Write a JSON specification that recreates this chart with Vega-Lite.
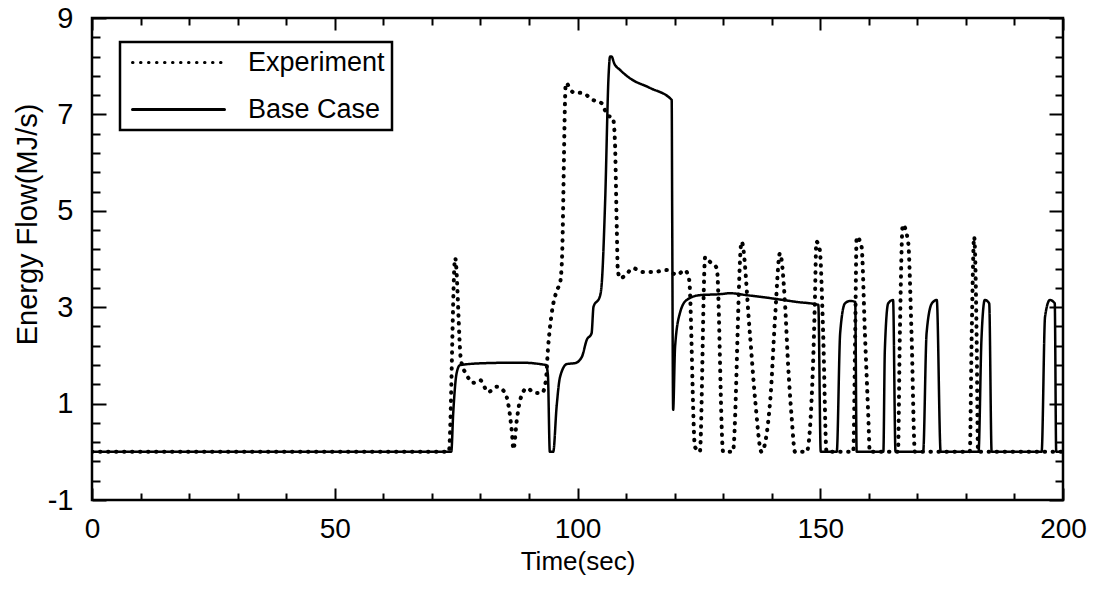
{
  "$schema": "https://vega.github.io/schema/vega-lite/v6.json",
  "autosize": {"type": "none"},
  "width": 971,
  "height": 482,
  "padding": {"left": 92, "top": 18, "right": 31, "bottom": 90},
  "background": "white",
  "config": {
    "view": {"stroke": "black", "strokeWidth": 2.5},
    "font": "Liberation Sans"
  },
  "datasets": {
    "curves": [
      {"series": "Experiment", "time": 0, "flow": 0},
      {"series": "Experiment", "time": 73.5, "flow": 0},
      {"series": "Experiment", "time": 74.8, "flow": 4.02},
      {"series": "Experiment", "time": 76.0, "flow": 1.9},
      {"series": "Experiment", "time": 77.2, "flow": 1.59},
      {"series": "Experiment", "time": 78.5, "flow": 1.43},
      {"series": "Experiment", "time": 79.9, "flow": 1.49},
      {"series": "Experiment", "time": 81.6, "flow": 1.24},
      {"series": "Experiment", "time": 83.4, "flow": 1.35},
      {"series": "Experiment", "time": 85.1, "flow": 1.22},
      {"series": "Experiment", "time": 85.7, "flow": 1.01},
      {"series": "Experiment", "time": 86.5, "flow": 0.39},
      {"series": "Experiment", "time": 86.8, "flow": 0.05},
      {"series": "Experiment", "time": 87.5, "flow": 0.66},
      {"series": "Experiment", "time": 88.2, "flow": 1.08},
      {"series": "Experiment", "time": 89.6, "flow": 1.32},
      {"series": "Experiment", "time": 91.2, "flow": 1.22},
      {"series": "Experiment", "time": 92.7, "flow": 1.22},
      {"series": "Experiment", "time": 93.5, "flow": 1.49},
      {"series": "Experiment", "time": 93.9, "flow": 2.11},
      {"series": "Experiment", "time": 94.7, "flow": 2.88},
      {"series": "Experiment", "time": 95.8, "flow": 3.36},
      {"series": "Experiment", "time": 96.4, "flow": 3.5},
      {"series": "Experiment", "time": 96.8, "flow": 3.98},
      {"series": "Experiment", "time": 97.6, "flow": 7.65},
      {"series": "Experiment", "time": 99.1, "flow": 7.46},
      {"series": "Experiment", "time": 101.1, "flow": 7.44},
      {"series": "Experiment", "time": 103.2, "flow": 7.3},
      {"series": "Experiment", "time": 105.0, "flow": 7.23},
      {"series": "Experiment", "time": 106.1, "flow": 6.99},
      {"series": "Experiment", "time": 107.3, "flow": 6.92},
      {"series": "Experiment", "time": 107.7, "flow": 6.47},
      {"series": "Experiment", "time": 108.1, "flow": 4.6},
      {"series": "Experiment", "time": 108.3, "flow": 3.77},
      {"series": "Experiment", "time": 108.8, "flow": 3.6},
      {"series": "Experiment", "time": 110.2, "flow": 3.7},
      {"series": "Experiment", "time": 111.4, "flow": 3.81},
      {"series": "Experiment", "time": 113.5, "flow": 3.73},
      {"series": "Experiment", "time": 115.6, "flow": 3.73},
      {"series": "Experiment", "time": 118.4, "flow": 3.77},
      {"series": "Experiment", "time": 120.5, "flow": 3.67},
      {"series": "Experiment", "time": 122.1, "flow": 3.77},
      {"series": "Experiment", "time": 123.0, "flow": 3.57},
      {"series": "Experiment", "time": 124.2, "flow": 0.1},
      {"series": "Experiment", "time": 125.2, "flow": 0.0},
      {"series": "Experiment", "time": 126.3, "flow": 4.04},
      {"series": "Experiment", "time": 127.3, "flow": 3.94},
      {"series": "Experiment", "time": 128.7, "flow": 3.81},
      {"series": "Experiment", "time": 130.0, "flow": 0.0},
      {"series": "Experiment", "time": 132.0, "flow": 0.0},
      {"series": "Experiment", "time": 133.8, "flow": 4.36},
      {"series": "Experiment", "time": 135.5, "flow": 2.46},
      {"series": "Experiment", "time": 136.6, "flow": 1.07},
      {"series": "Experiment", "time": 137.9, "flow": 0.0},
      {"series": "Experiment", "time": 139.7, "flow": 1.07},
      {"series": "Experiment", "time": 140.7, "flow": 2.8},
      {"series": "Experiment", "time": 141.7, "flow": 4.12},
      {"series": "Experiment", "time": 142.7, "flow": 3.15},
      {"series": "Experiment", "time": 143.4, "flow": 1.77},
      {"series": "Experiment", "time": 144.1, "flow": 0.73},
      {"series": "Experiment", "time": 144.8, "flow": 0.0},
      {"series": "Experiment", "time": 147.2, "flow": 0.0},
      {"series": "Experiment", "time": 148.5, "flow": 1.77},
      {"series": "Experiment", "time": 148.9, "flow": 3.15},
      {"series": "Experiment", "time": 149.2, "flow": 4.36},
      {"series": "Experiment", "time": 149.9, "flow": 4.19},
      {"series": "Experiment", "time": 150.6, "flow": 2.46},
      {"series": "Experiment", "time": 151.3, "flow": 0.0},
      {"series": "Experiment", "time": 156.8, "flow": 0.0},
      {"series": "Experiment", "time": 157.2, "flow": 2.46},
      {"series": "Experiment", "time": 157.5, "flow": 4.46},
      {"series": "Experiment", "time": 158.5, "flow": 4.26},
      {"series": "Experiment", "time": 159.2, "flow": 2.46},
      {"series": "Experiment", "time": 159.9, "flow": 0.73},
      {"series": "Experiment", "time": 160.2, "flow": 0.0},
      {"series": "Experiment", "time": 166.0, "flow": 0.0},
      {"series": "Experiment", "time": 166.4, "flow": 2.46},
      {"series": "Experiment", "time": 167.0, "flow": 4.71},
      {"series": "Experiment", "time": 168.1, "flow": 4.36},
      {"series": "Experiment", "time": 168.8, "flow": 2.46},
      {"series": "Experiment", "time": 169.5, "flow": 0.0},
      {"series": "Experiment", "time": 180.8, "flow": 0.0},
      {"series": "Experiment", "time": 181.2, "flow": 2.46},
      {"series": "Experiment", "time": 181.7, "flow": 4.46},
      {"series": "Experiment", "time": 182.2, "flow": 2.46},
      {"series": "Experiment", "time": 182.5, "flow": 0.0},
      {"series": "Experiment", "time": 200, "flow": 0.0},

      {"series": "Base Case", "time": 0, "flow": 0},
      {"series": "Base Case", "time": 74.0, "flow": 0},
      {"series": "Base Case", "time": 74.4, "flow": 0.8},
      {"series": "Base Case", "time": 75.1, "flow": 1.63},
      {"series": "Base Case", "time": 75.8, "flow": 1.8},
      {"series": "Base Case", "time": 81.3, "flow": 1.84},
      {"series": "Base Case", "time": 88.2, "flow": 1.85},
      {"series": "Base Case", "time": 93.5, "flow": 1.8},
      {"series": "Base Case", "time": 93.9, "flow": 1.6},
      {"series": "Base Case", "time": 94.3, "flow": 0},
      {"series": "Base Case", "time": 95.0, "flow": 0},
      {"series": "Base Case", "time": 95.7, "flow": 0.94},
      {"series": "Base Case", "time": 96.4, "flow": 1.55},
      {"series": "Base Case", "time": 97.8, "flow": 1.82},
      {"series": "Base Case", "time": 99.5, "flow": 1.84},
      {"series": "Base Case", "time": 100.9, "flow": 1.97},
      {"series": "Base Case", "time": 101.9, "flow": 2.32},
      {"series": "Base Case", "time": 102.9, "flow": 2.46},
      {"series": "Base Case", "time": 103.3, "flow": 3.01},
      {"series": "Base Case", "time": 104.6, "flow": 3.22},
      {"series": "Base Case", "time": 105.0, "flow": 3.5},
      {"series": "Base Case", "time": 105.7, "flow": 5.22},
      {"series": "Base Case", "time": 106.4, "flow": 7.8},
      {"series": "Base Case", "time": 106.7, "flow": 8.2},
      {"series": "Base Case", "time": 107.0, "flow": 8.2},
      {"series": "Base Case", "time": 107.6, "flow": 8.05},
      {"series": "Base Case", "time": 108.8, "flow": 7.92},
      {"series": "Base Case", "time": 110.8, "flow": 7.75},
      {"series": "Base Case", "time": 114.9, "flow": 7.55},
      {"series": "Base Case", "time": 119.4, "flow": 7.3},
      {"series": "Base Case", "time": 119.5, "flow": 5.0},
      {"series": "Base Case", "time": 119.7, "flow": 0.87},
      {"series": "Base Case", "time": 120.1, "flow": 2.18},
      {"series": "Base Case", "time": 121.1, "flow": 2.88},
      {"series": "Base Case", "time": 122.5, "flow": 3.15},
      {"series": "Base Case", "time": 125.2, "flow": 3.25},
      {"series": "Base Case", "time": 129.3, "flow": 3.27},
      {"series": "Base Case", "time": 131.4, "flow": 3.29},
      {"series": "Base Case", "time": 134.8, "flow": 3.25},
      {"series": "Base Case", "time": 140.3, "flow": 3.18},
      {"series": "Base Case", "time": 145.1, "flow": 3.11},
      {"series": "Base Case", "time": 149.6, "flow": 3.05},
      {"series": "Base Case", "time": 150.1, "flow": 0},
      {"series": "Base Case", "time": 153.4, "flow": 0},
      {"series": "Base Case", "time": 154.1, "flow": 2.46},
      {"series": "Base Case", "time": 155.1, "flow": 3.08},
      {"series": "Base Case", "time": 156.2, "flow": 3.13},
      {"series": "Base Case", "time": 157.2, "flow": 3.11},
      {"series": "Base Case", "time": 157.5, "flow": 0},
      {"series": "Base Case", "time": 163.0, "flow": 0},
      {"series": "Base Case", "time": 163.3, "flow": 2.1},
      {"series": "Base Case", "time": 164.0, "flow": 3.08},
      {"series": "Base Case", "time": 165.0, "flow": 3.15},
      {"series": "Base Case", "time": 165.5, "flow": 0},
      {"series": "Base Case", "time": 171.2, "flow": 0},
      {"series": "Base Case", "time": 171.9, "flow": 2.46},
      {"series": "Base Case", "time": 173.0, "flow": 3.08},
      {"series": "Base Case", "time": 174.0, "flow": 3.15},
      {"series": "Base Case", "time": 174.8, "flow": 0},
      {"series": "Base Case", "time": 182.6, "flow": 0},
      {"series": "Base Case", "time": 183.2, "flow": 2.32},
      {"series": "Base Case", "time": 183.9, "flow": 3.15},
      {"series": "Base Case", "time": 184.8, "flow": 3.08},
      {"series": "Base Case", "time": 185.3, "flow": 0},
      {"series": "Base Case", "time": 195.6, "flow": 0},
      {"series": "Base Case", "time": 196.3, "flow": 2.8},
      {"series": "Base Case", "time": 197.3, "flow": 3.15},
      {"series": "Base Case", "time": 198.3, "flow": 3.08},
      {"series": "Base Case", "time": 198.6, "flow": 0},
      {"series": "Base Case", "time": 200, "flow": 0}
    ]
  },
  "data": {"name": "curves"},
  "layer": [
    {
      "transform": [{"filter": "datum.series === 'Experiment'"}],
      "mark": {"type": "line", "color": "black", "strokeWidth": 4, "strokeCap": "round", "strokeDash": [0.5, 7.5], "interpolate": "monotone", "clip": true},
      "encoding": {
        "x": {
          "field": "time", "type": "quantitative",
          "scale": {"domain": [0, 200], "nice": false, "zero": false},
          "axis": {
            "orient": "bottom", "title": "Time(sec)",
            "values": [0,10,20,30,40,50,60,70,80,90,100,110,120,130,140,150,160,170,180,190,200],
            "labelExpr": "datum.value % 50 === 0 ? datum.label : ''",
            "labelFlush": false, "labelOverlap": false,
            "tickSize": {"condition": {"test": "datum.value % 50 === 0", "value": -12}, "value": -7},
            "tickColor": "black", "tickWidth": 2, "domain": false, "grid": false,
            "labelFont": "Liberation Sans", "labelFontSize": 28, "labelColor": "black", "labelPadding": 27,
            "titleFont": "Liberation Sans", "titleFontSize": 26, "titleFontWeight": "normal", "titleColor": "black",
            "titleY": 69, "titleBaseline": "alphabetic", "titleAlign": "center", "titleAnchor": "middle"
          }
        },
        "y": {
          "field": "flow", "type": "quantitative",
          "scale": {"domain": [-1, 9], "nice": false, "zero": false},
          "axis": {
            "orient": "left", "title": "Energy Flow(MJ/s)",
            "values": [-1,-0.6,-0.2,0.2,0.6,1,1.4,1.8,2.2,2.6,3,3.4,3.8,4.2,4.6,5,5.4,5.8,6.2,6.6,7,7.4,7.8,8.2,8.6,9],
            "labelExpr": "indexof([-1,1,3,5,7,9], datum.value) >= 0 ? (datum.value < 0 ? '-1' : format(datum.value, 'd')) : ''",
            "labelFlush": false, "labelOverlap": false,
            "tickSize": {"condition": {"test": "indexof([-1,1,3,5,7,9], datum.value) >= 0", "value": -14}, "value": -8},
            "tickColor": "black", "tickWidth": 2, "domain": false, "grid": false,
            "labelFont": "Liberation Sans", "labelFontSize": 29, "labelColor": "black", "labelPadding": 33,
            "titleFont": "Liberation Sans", "titleFontSize": 29, "titleFontWeight": "normal", "titleColor": "black",
            "titleX": -65, "titleY": 206, "titleAlign": "center", "titleBaseline": "middle", "titleAngle": -90
          }
        },
        "strokeDash": {
          "field": "series", "type": "nominal",
          "scale": {"domain": ["Experiment", "Base Case"], "range": [[0.5, 7.5], [1, 0]]},
          "legend": {
            "orient": "none", "legendX": 28, "legendY": 24, "title": null,
            "symbolType": "M-4,0H4", "symbolSize": 529, "symbolStrokeWidth": 2.5, "symbolStrokeColor": "black",
            "symbolOffset": 38,
            "labelFont": "Liberation Sans", "labelFontSize": 27, "labelColor": "black", "labelOffset": 56,
            "strokeColor": "black", "padding": 7, "rowPadding": 19,
            "encode": {
              "legend": {"update": {"strokeWidth": {"value": 2.5}}},
              "symbols": {"update": {"strokeCap": {"value": "round"}, "strokeWidth": {"value": 3}}}
            }
          }
        }
      }
    },
    {
      "transform": [{"filter": "datum.series === 'Base Case'"}],
      "mark": {"type": "line", "color": "black", "strokeWidth": 2.5, "interpolate": "monotone", "clip": true},
      "encoding": {
        "x": {
          "field": "time", "type": "quantitative",
          "axis": {
            "orient": "top", "title": null, "labels": false, "domain": false, "grid": false,
            "values": [0,10,20,30,40,50,60,70,80,90,100,110,120,130,140,150,160,170,180,190,200],
            "tickSize": {"condition": {"test": "datum.value % 50 === 0", "value": -12}, "value": -7},
            "tickColor": "black", "tickWidth": 2
          }
        },
        "y": {
          "field": "flow", "type": "quantitative",
          "axis": {
            "orient": "right", "title": null, "labels": false, "domain": false, "grid": false,
            "values": [-1,-0.6,-0.2,0.2,0.6,1,1.4,1.8,2.2,2.6,3,3.4,3.8,4.2,4.6,5,5.4,5.8,6.2,6.6,7,7.4,7.8,8.2,8.6,9],
            "tickSize": {"condition": {"test": "indexof([-1,1,3,5,7,9], datum.value) >= 0", "value": -14}, "value": -8},
            "tickColor": "black", "tickWidth": 2
          }
        },
        "strokeDash": {"field": "series", "type": "nominal"}
      }
    }
  ],
  "resolve": {"axis": {"x": "independent", "y": "independent"}}
}
